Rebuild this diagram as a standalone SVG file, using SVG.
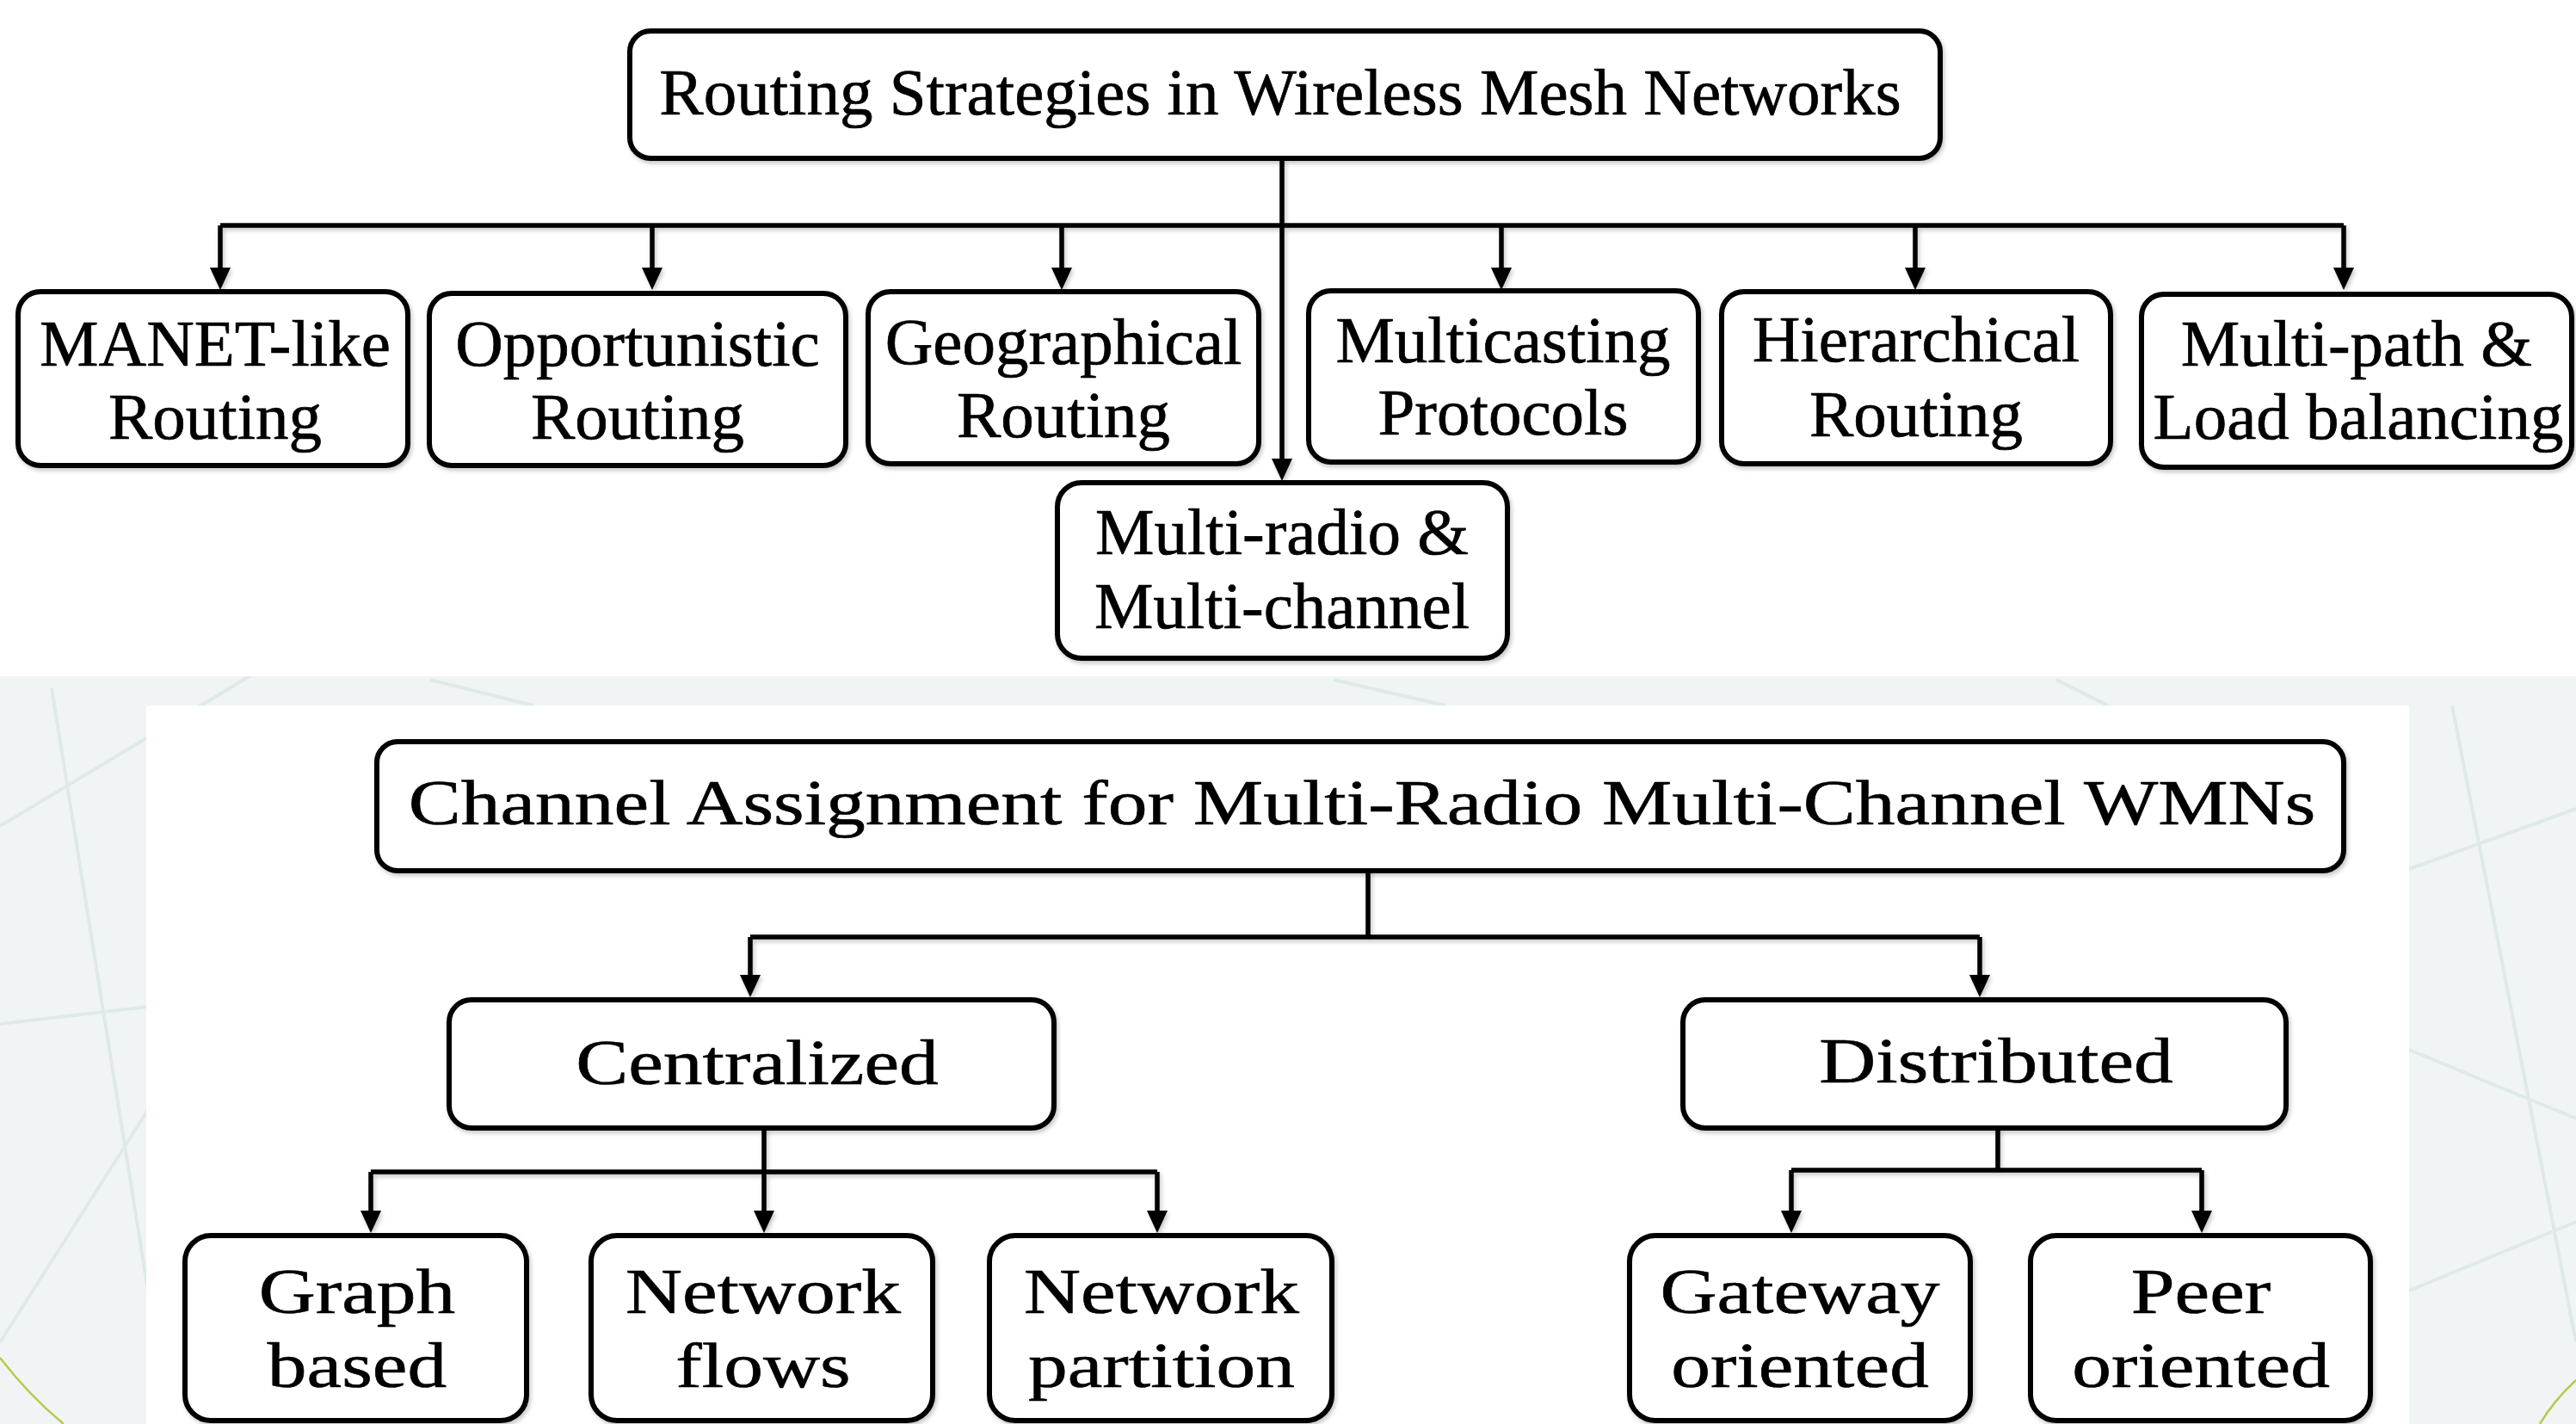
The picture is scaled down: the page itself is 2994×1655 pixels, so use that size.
<svg xmlns="http://www.w3.org/2000/svg" width="2994" height="1655" viewBox="0 0 2994 1655">
  <defs>
    <style>
      .box { fill: #ffffff; stroke: #000000; stroke-width: 6; }
      .lbl { font-family: "Liberation Serif", "Times New Roman", serif; font-size: 77px; fill: #000000; stroke: #000000; stroke-width: 0.7; text-anchor: middle; }
      .lbl2 { font-family: "Liberation Serif", "Times New Roman", serif; font-size: 75px; fill: #000000; stroke: #000000; stroke-width: 0.6; text-anchor: middle; }
      .wire { fill: none; stroke: #000000; stroke-width: 5.5; stroke-linecap: butt; stroke-linejoin: miter; }
      .arrow { marker-end: url(#ah); }
      .bgl { fill: none; stroke: #e0e9e9; stroke-width: 4; }
    </style>
    <marker id="ah" markerUnits="userSpaceOnUse" markerWidth="26" markerHeight="24" viewBox="0 0 26 24" refX="14" refY="12" orient="auto">
      <path d="M0,0 L26,12 L0,24 z" fill="#000000"/>
    </marker>
    <filter id="sh" x="-5%" y="-5%" width="110%" height="120%">
      <feDropShadow dx="2" dy="3" stdDeviation="2.5" flood-color="#000000" flood-opacity="0.22"/>
    </filter>
  </defs>

  <!-- slide background -->
  <rect x="0" y="0" width="2994" height="1655" fill="#f1f4f4"/>
  <g id="background-lines">
    <line class="bgl" x1="0" y1="960" x2="300" y2="780"/>
    <line class="bgl" x1="0" y1="1190" x2="172" y2="1170"/>
    <line class="bgl" x1="60" y1="800" x2="172" y2="1500"/>
    <line class="bgl" x1="0" y1="1560" x2="172" y2="1290"/>
    <line class="bgl" x1="500" y1="790" x2="620" y2="820"/>
    <line class="bgl" x1="1550" y1="790" x2="1680" y2="820"/>
    <line class="bgl" x1="2390" y1="790" x2="2450" y2="820"/>
    <line class="bgl" x1="2800" y1="1010" x2="2994" y2="940"/>
    <line class="bgl" x1="2800" y1="1220" x2="2994" y2="1300"/>
    <line class="bgl" x1="2850" y1="820" x2="2994" y2="1560"/>
    <line class="bgl" x1="2800" y1="1500" x2="2994" y2="1420"/>
    <path d="M0,1578 Q34,1622 74,1655" fill="none" stroke="#b9c94c" stroke-width="2.5"/>
    <path d="M2994,1604 Q2968,1628 2952,1655" fill="none" stroke="#b9c94c" stroke-width="2.5"/>
  </g>
  <rect x="0" y="0" width="2994" height="786" fill="#ffffff"/>
  <rect x="170" y="820" width="2630" height="835" fill="#ffffff"/>

  <!-- connectors -->
  <g id="connectors" filter="url(#sh)">
    <!-- top tree -->
    <path class="wire" d="M256,262 H2724"/>
    <path class="wire arrow" d="M1490,185 V547"/>
    <path class="wire arrow" d="M256,262 V325"/>
    <path class="wire arrow" d="M758,262 V325"/>
    <path class="wire arrow" d="M1234,262 V325"/>
    <path class="wire arrow" d="M1745,262 V325"/>
    <path class="wire arrow" d="M2226,262 V325"/>
    <path class="wire arrow" d="M2724,262 V325"/>
    <!-- bottom tree -->
    <path class="wire" d="M1590,1012 V1089"/>
    <path class="wire" d="M872,1089 H2301"/>
    <path class="wire arrow" d="M872,1089 V1147"/>
    <path class="wire arrow" d="M2301,1089 V1147"/>
    <path class="wire" d="M888,1311 V1362"/>
    <path class="wire" d="M431,1362 H1345"/>
    <path class="wire arrow" d="M431,1362 V1421"/>
    <path class="wire arrow" d="M888,1362 V1421"/>
    <path class="wire arrow" d="M1345,1362 V1421"/>
    <path class="wire" d="M2322,1311 V1360"/>
    <path class="wire" d="M2082,1360 H2559"/>
    <path class="wire arrow" d="M2082,1360 V1421"/>
    <path class="wire arrow" d="M2559,1360 V1421"/>
  </g>

  <!-- top diagram nodes -->
  <g id="routing-strategies">
    <rect class="box" x="732" y="36" width="1523" height="148" rx="24" filter="url(#sh)"/>
    <text class="lbl" x="1488" y="133">Routing Strategies in Wireless Mesh Networks</text>
  </g>
  <g id="manet-like">
    <rect class="box" x="21" y="339" width="453" height="202" rx="26" filter="url(#sh)"/>
    <text class="lbl" x="250" y="425">MANET-like</text>
    <text class="lbl" x="250" y="510">Routing</text>
  </g>
  <g id="opportunistic">
    <rect class="box" x="499" y="341" width="484" height="200" rx="26" filter="url(#sh)"/>
    <text class="lbl" x="741" y="425">Opportunistic</text>
    <text class="lbl" x="741" y="510">Routing</text>
  </g>
  <g id="geographical">
    <rect class="box" x="1009" y="339" width="454" height="200" rx="26" filter="url(#sh)"/>
    <text class="lbl" x="1236" y="423">Geographical</text>
    <text class="lbl" x="1236" y="508">Routing</text>
  </g>
  <g id="multicasting">
    <rect class="box" x="1521" y="338" width="453" height="199" rx="26" filter="url(#sh)"/>
    <text class="lbl" x="1747" y="421">Multicasting</text>
    <text class="lbl" x="1747" y="505">Protocols</text>
  </g>
  <g id="hierarchical">
    <rect class="box" x="2001" y="339" width="452" height="200" rx="26" filter="url(#sh)"/>
    <text class="lbl" x="2227" y="420">Hierarchical</text>
    <text class="lbl" x="2227" y="507">Routing</text>
  </g>
  <g id="multi-path">
    <rect class="box" x="2489" y="342" width="500" height="201" rx="26" filter="url(#sh)"/>
    <text class="lbl" x="2739" y="425">Multi-path &amp;</text>
    <text class="lbl" x="2741" y="510">Load balancing</text>
  </g>
  <g id="multi-radio">
    <rect class="box" x="1229" y="561" width="523" height="204" rx="28" filter="url(#sh)"/>
    <text class="lbl" x="1490" y="644">Multi-radio &amp;</text>
    <text class="lbl" x="1490" y="730">Multi-channel</text>
  </g>

  <!-- bottom diagram nodes -->
  <g id="channel-assignment">
    <rect class="box" x="438" y="862" width="2286" height="150" rx="24" filter="url(#sh)"/>
    <text class="lbl2" transform="translate(1583 0) scale(1.22 1)" x="0" y="958">Channel Assignment for Multi-Radio Multi-Channel WMNs</text>
  </g>
  <g id="centralized">
    <rect class="box" x="522" y="1162" width="703" height="149" rx="26" filter="url(#sh)"/>
    <text class="lbl2" transform="translate(880 0) scale(1.22 1)" x="0" y="1260">Centralized</text>
  </g>
  <g id="distributed">
    <rect class="box" x="1956" y="1162" width="701" height="149" rx="26" filter="url(#sh)"/>
    <text class="lbl2" transform="translate(2320 0) scale(1.22 1)" x="0" y="1258">Distributed</text>
  </g>
  <g id="graph-based">
    <rect class="box" x="215" y="1436" width="397" height="215" rx="30" filter="url(#sh)"/>
    <text class="lbl2" transform="translate(415 0) scale(1.22 1)" x="0" y="1526">Graph</text>
    <text class="lbl2" transform="translate(415 0) scale(1.22 1)" x="0" y="1612">based</text>
  </g>
  <g id="network-flows">
    <rect class="box" x="687" y="1436" width="397" height="215" rx="30" filter="url(#sh)"/>
    <text class="lbl2" transform="translate(887 0) scale(1.22 1)" x="0" y="1526">Network</text>
    <text class="lbl2" transform="translate(887 0) scale(1.22 1)" x="0" y="1612">flows</text>
  </g>
  <g id="network-partition">
    <rect class="box" x="1150" y="1436" width="398" height="215" rx="30" filter="url(#sh)"/>
    <text class="lbl2" transform="translate(1350 0) scale(1.22 1)" x="0" y="1526">Network</text>
    <text class="lbl2" transform="translate(1350 0) scale(1.22 1)" x="0" y="1612">partition</text>
  </g>
  <g id="gateway-oriented">
    <rect class="box" x="1894" y="1436" width="396" height="215" rx="30" filter="url(#sh)"/>
    <text class="lbl2" transform="translate(2092 0) scale(1.22 1)" x="0" y="1526">Gateway</text>
    <text class="lbl2" transform="translate(2092 0) scale(1.22 1)" x="0" y="1612">oriented</text>
  </g>
  <g id="peer-oriented">
    <rect class="box" x="2360" y="1436" width="395" height="215" rx="30" filter="url(#sh)"/>
    <text class="lbl2" transform="translate(2558 0) scale(1.22 1)" x="0" y="1526">Peer</text>
    <text class="lbl2" transform="translate(2558 0) scale(1.22 1)" x="0" y="1612">oriented</text>
  </g>
</svg>
